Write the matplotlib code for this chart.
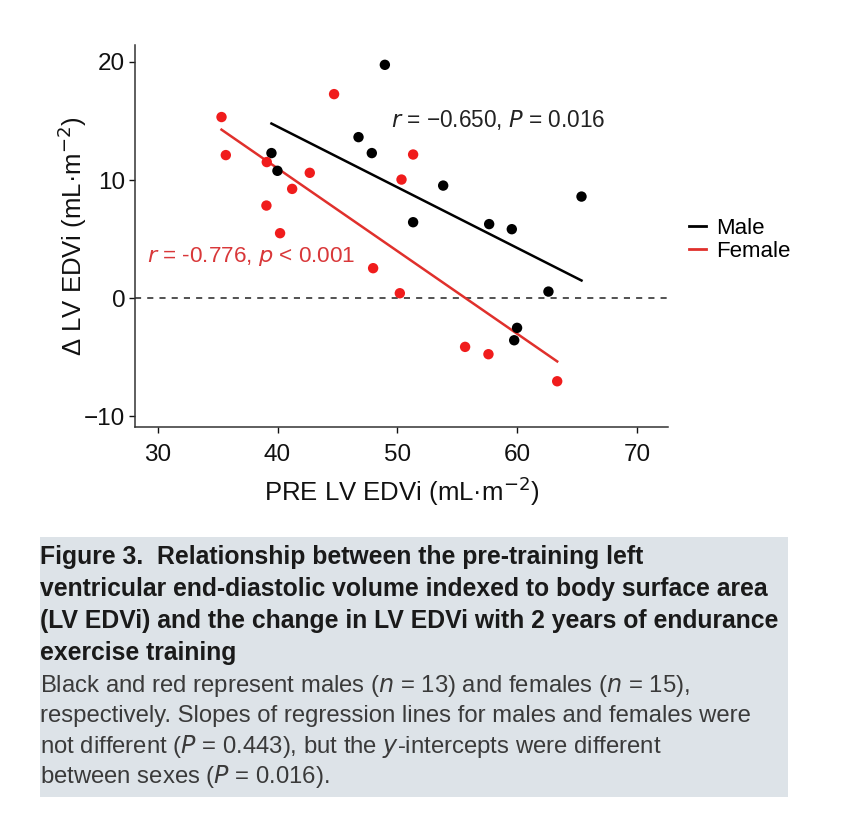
import numpy as np
import matplotlib
matplotlib.use("Agg")
import matplotlib.pyplot as plt
from matplotlib.patches import Rectangle
from matplotlib.lines import Line2D

plt.rcParams["font.family"] = ["Liberation Sans", "DejaVu Sans"]

# PRE LV EDVi vs change in LV EDVi (mL·m^-2)
male_pre = [48.96, 46.76, 47.87, 39.49, 39.99, 53.83, 65.38, 51.32, 57.67, 59.56, 62.62, 60.0, 59.76]
male_delta = [19.75, 13.63, 12.28, 12.28, 10.78, 9.53, 8.60, 6.43, 6.27, 5.84, 0.56, -2.51, -3.56]
female_pre = [44.72, 35.32, 35.68, 39.10, 42.69, 41.22, 39.07, 40.21, 51.32, 50.35, 47.98, 50.21, 55.66, 57.61, 63.35]
female_delta = [17.27, 15.33, 12.11, 11.52, 10.61, 9.25, 7.84, 5.50, 12.16, 10.04, 2.54, 0.42, -4.12, -4.74, -7.03]

x_ticks = [30, 40, 50, 60, 70]
y_ticks = [-10, 0, 10, 20]

RED_PT = "#f01c1c"
RED_LN = "#e0302c"
RED_TXT = "#d9383a"
AX_COL = "#333333"

fig = plt.figure(figsize=(8.52, 8.24), dpi=100)
ax = fig.add_axes([0.1585, 0.4818, 0.6255, 0.4632])

ax.axhline(0, color="#222222", lw=1.1, ls=(0, (4, 4)), zorder=1)

for xs, ys, pc, lc in [(male_pre, male_delta, "black", "black"),
                       (female_pre, female_delta, RED_PT, RED_LN)]:
    xs = np.array(xs)
    ys = np.array(ys)
    k, b = np.polyfit(xs, ys, 1)
    xx = np.array([xs.min(), xs.max()])
    ax.plot(xx, k * xx + b, color=lc, lw=1.8, zorder=2)
    ax.scatter(xs, ys, s=56, color=pc, edgecolors="none", zorder=3)

ax.text(49.5, 15.1, r"$\it{r}$ = −0.650, $\it{P}$ = 0.016", fontsize=16.3,
        color="#222222", va="center", ha="left")
ax.text(29.1, 3.5, r"$\it{r}$ = -0.776, $\it{p}$ < 0.001", fontsize=16.2,
        color=RED_TXT, va="center", ha="left")

ax.set_xlim(28.1, 72.6)
ax.set_ylim(-10.9, 21.4)
ax.set_xticks(x_ticks)
ax.set_yticks(y_ticks)
ax.tick_params(labelsize=17.5, colors="#111111", length=4, width=1, direction="out", pad=3)
ax.tick_params(axis="x", pad=8)
for s in ["top", "right"]:
    ax.spines[s].set_visible(False)
for s in ["left", "bottom"]:
    ax.spines[s].set_color(AX_COL)
    ax.spines[s].set_linewidth(1.1)

ax.set_xlabel(r"PRE LV EDVi (mL·m$^{-2}$)", fontsize=18.5, color="#111111", va="center")
ax.set_ylabel(r"Δ LV EDVi (mL·m$^{-2}$)", fontsize=18.5, color="#111111", va="center")
ax.xaxis.set_label_coords(0.5, -0.168)
ax.yaxis.set_label_coords(-0.118, 0.5)

handles = [Line2D([], [], color="black", lw=2), Line2D([], [], color=RED_LN, lw=2)]
fig.legend(handles, ["Male", "Female"], loc="center left", bbox_to_anchor=(0.79, 0.709),
           frameon=False, fontsize=16, handlelength=0.8, handletextpad=0.45,
           labelspacing=0.1, borderpad=0.2)

# caption box
fig.patches.append(Rectangle((40 / 852, 1 - 797 / 824), 748 / 852, 260 / 824,
                             transform=fig.transFigure, facecolor="#dde3e8",
                             edgecolor="none", zorder=0))

title_lines = [
    "Figure 3.  Relationship between the pre-training left",
    "ventricular end-diastolic volume indexed to body surface area",
    "(LV EDVi) and the change in LV EDVi with 2 years of endurance",
    "exercise training",
]
body_lines = [
    r"Black and red represent males ($\it{n}$ = 13) and females ($\it{n}$ = 15),",
    "respectively. Slopes of regression lines for males and females were",
    r"not different ($\it{P}$ = 0.443), but the $\it{y}$-intercepts were different",
    r"between sexes ($\it{P}$ = 0.016).",
]
y0 = 557
for i, t in enumerate(title_lines):
    fig.text(40 / 852, 1 - (y0 + i * 32) / 824, t, fontsize=17.8, fontweight="bold",
             color="#1a1a1a", va="center", ha="left")
y1 = 686
for i, t in enumerate(body_lines):
    fig.text(40 / 852, 1 - (y1 + i * 30) / 824, t, fontsize=17.2,
             color="#3a3a3a", va="center", ha="left")

fig.savefig("out.png", dpi=100, facecolor="white")
